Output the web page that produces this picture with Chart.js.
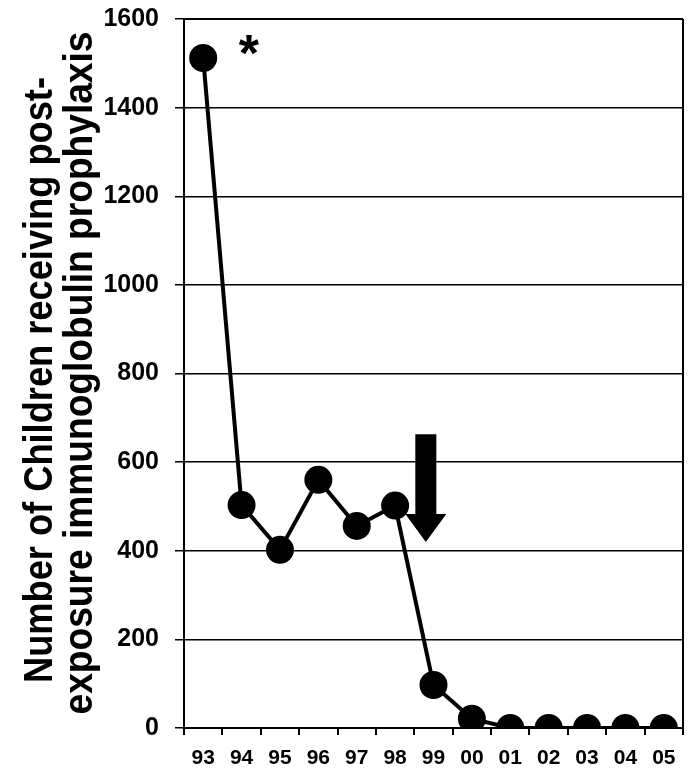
<!DOCTYPE html>
<html>
<head>
<meta charset="utf-8">
<script src="https://cdn.jsdelivr.net/npm/chart.js@4/dist/chart.umd.min.js"></script>
<style>
  body { margin: 0; background: #fff; }
  #wrap { width: 699px; height: 770px; }
</style>
</head>
<body>
<div id="wrap"><canvas id="myChart"></canvas></div>
<script>
"use strict";

const years = ["93", "94", "95", "96", "97", "98", "99", "00", "01", "02", "03", "04", "05"];
const children = [1512, 503, 402, 560, 456, 502, 97, 21, 0, 0, 0, 0, 0];
const yTicks = [0, 200, 400, 600, 800, 1000, 1200, 1400, 1600];
const titleLines = ["Number of Children receiving post-", "exposure immunoglobulin prophylaxis"];

const FONT = "'Liberation Sans', Arial, sans-serif";

// title, asterisk, arrow and right frame line
const extras = {
  id: "extras",
  afterDraw(chart) {
    const ctx = chart.ctx;
    const area = chart.chartArea;
    const x = chart.scales.x;
    const y = chart.scales.y;
    ctx.save();

    // right border + top line of plot area
    ctx.strokeStyle = "#000";
    ctx.lineWidth = 2;
    ctx.beginPath();
    ctx.moveTo(area.right, area.top);
    ctx.lineTo(area.right, area.bottom);
    ctx.stroke();
    ctx.beginPath();
    ctx.moveTo(area.left, area.top);
    ctx.lineTo(area.right, area.top);
    ctx.stroke();

    // rotated two-line y title, squeezed along baseline
    const lines = [
      { text: titleLines[0], base: 52, center: 380, len: 606 },
      { text: titleLines[1], base: 92, center: 373, len: 683 },
    ];
    ctx.fillStyle = "#000";
    ctx.font = "bold 41px " + FONT;
    ctx.textAlign = "center";
    ctx.textBaseline = "alphabetic";
    lines.forEach((l) => {
      const w = ctx.measureText(l.text).width;
      ctx.save();
      ctx.translate(l.base, l.center);
      ctx.rotate(-Math.PI / 2);
      ctx.scale(l.len / w, 1);
      ctx.fillText(l.text, 0, 0);
      ctx.restore();
    });

    // asterisk
    ctx.font = "bold 52px " + FONT;
    ctx.textBaseline = "middle";
    ctx.fillText("*", x.getPixelForValue(1.19), y.getPixelForValue(1514));

    // down arrow
    const cx = x.getPixelForValue(5.8);
    const top = y.getPixelForValue(663);
    const headStart = y.getPixelForValue(483);
    const tip = y.getPixelForValue(420);
    ctx.beginPath();
    ctx.moveTo(cx - 10.5, top);
    ctx.lineTo(cx + 10.5, top);
    ctx.lineTo(cx + 10.5, headStart);
    ctx.lineTo(cx + 20.5, headStart);
    ctx.lineTo(cx, tip);
    ctx.lineTo(cx - 20.5, headStart);
    ctx.lineTo(cx - 10.5, headStart);
    ctx.closePath();
    ctx.fill();

    ctx.restore();
  },
};

new Chart(document.getElementById("myChart"), {
  type: "line",
  data: {
    labels: years,
    datasets: [
      {
        data: children,
        borderColor: "#000",
        borderWidth: 4,
        backgroundColor: "#000",
        pointBackgroundColor: "#000",
        pointBorderColor: "#000",
        pointRadius: 12,
        tension: 0,
      },
    ],
  },
  options: {
    responsive: true,
    maintainAspectRatio: false,
    animation: false,
    layout: { padding: { top: 19, right: 2, bottom: 0, left: 0 } },
    plugins: {
      legend: { display: false },
      tooltip: { enabled: false },
    },
    scales: {
      x: {
        offset: true,
        afterFit(scale) {
          scale.height = 42;
          scale.paddingLeft = 0;
          scale.paddingRight = 0;
        },
        grid: {
          offset: true,
          drawOnChartArea: false,
          drawTicks: true,
          tickLength: 7,
          color: "#000",
          lineWidth: 2,
        },
        border: { display: true, color: "#000", width: 2 },
        ticks: {
          color: "#000",
          font: { family: FONT, size: 21, weight: "bold" },
          padding: 11,
          maxRotation: 0,
          autoSkip: false,
        },
      },
      y: {
        min: 0,
        max: 1600,
        afterFit(scale) {
          scale.width = 184;
          scale.paddingTop = 0;
          scale.paddingBottom = 0;
        },
        afterBuildTicks(scale) { scale.ticks = yTicks.map((v) => ({ value: v })); },
        grid: {
          color: "#000",
          lineWidth: 1.5,
          drawTicks: true,
          tickLength: 9,
        },
        border: { display: true, color: "#000", width: 2 },
        ticks: {
          color: "#000",
          font: { family: FONT, size: 25, weight: "bold" },
          padding: 16,
          callback: (v) => String(v),
        },
      },
    },
  },
  plugins: [extras],
});
</script>
</body>
</html>
